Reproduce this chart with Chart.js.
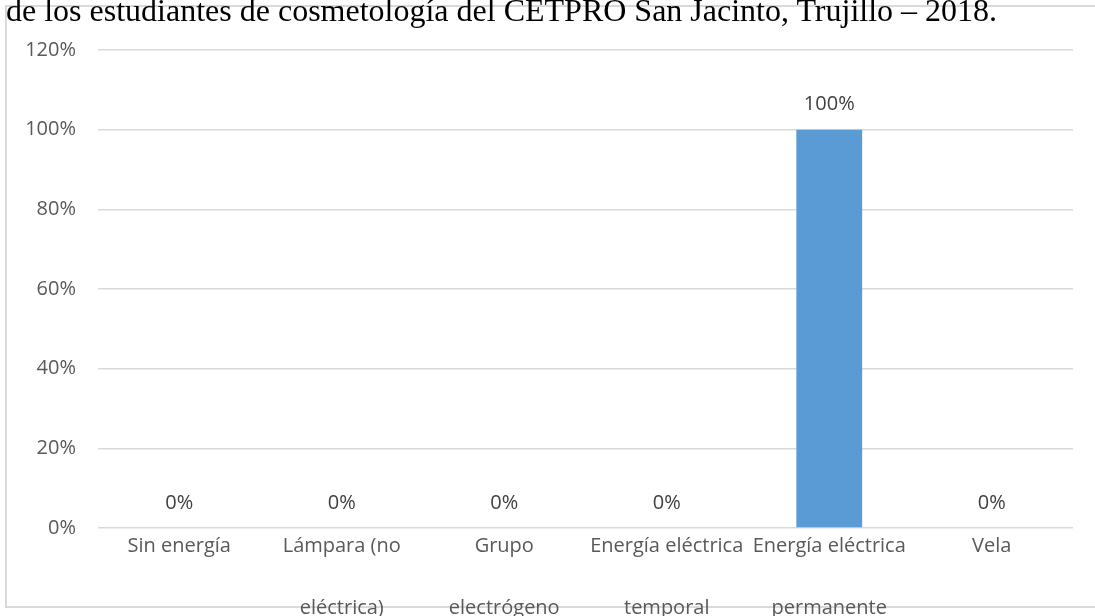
<!DOCTYPE html>
<html lang="es">
<head>
<meta charset="utf-8">
<title>Tipo de energía</title>
<script src="https://cdn.jsdelivr.net/npm/chart.js@4/dist/chart.umd.min.js"></script>
<style>
  html, body { margin: 0; padding: 0; background: #ffffff; overflow: hidden; }
  #wrap { position: relative; width: 1095px; height: 616px; }
  #marco { position: absolute; left: 5px; top: 5px; width: 1100px; height: 599px; border: 2px solid #d9d9d9; }
  #titulo { position: absolute; left: 6px; top: -6px; font-family: "Liberation Serif", "Times New Roman", serif; font-size: 32px; line-height: 32px; color: #000000; white-space: nowrap; }
  #grafico { position: absolute; left: 0; top: 0; }
</style>
</head>
<body>
<div id="wrap">
  <div id="marco"></div>
  <canvas id="grafico" width="1095" height="616"></canvas>
  <div id="titulo">de los estudiantes de cosmetología del CETPRO San Jacinto, Trujillo – 2018.</div>
</div>
<script>
// Categorías del eje X (cada una puede tener dos líneas)
const categorias = [
  ['Sin energía'],
  ['Lámpara (no', 'eléctrica)'],
  ['Grupo', 'electrógeno'],
  ['Energía eléctrica', 'temporal'],
  ['Energía eléctrica', 'permanente'],
  ['Vela']
];
// Porcentaje de estudiantes (0 a 1)
const porcentajes = [0, 0, 0, 0, 1, 0];
// Límites del eje Y
const ejeMin = 0;
const ejeMax = 1.2;
const ejePaso = 0.2;

const formatoPct = v => Math.round(v * 100) + '%'; // 0.2 -> "20%"

// Plugin sencillo para las etiquetas sobre las barras
const etiquetasBarras = {
  id: 'etiquetasBarras',
  afterDatasetsDraw(chart) {
    const c = chart.ctx;
    const meta = chart.getDatasetMeta(0);
    c.save();
    c.font = '20px "Open Sans", sans-serif';
    c.fillStyle = '#404040';
    c.textAlign = 'center';
    c.textBaseline = 'middle';
    meta.data.forEach((barra, i) => {
      c.fillText(formatoPct(porcentajes[i]), barra.x, barra.y - 25);
    });
    c.restore();
  }
};

const ctx = document.getElementById('grafico').getContext('2d');
const grafico = new Chart(ctx, {
  type: 'bar',
  data: {
    labels: categorias,
    datasets: [{
      data: porcentajes,
      backgroundColor: '#5b9bd5',
      borderWidth: 0,
      barPercentage: 0.9,
      categoryPercentage: 0.45
    }]
  },
  options: {
    responsive: false,
    animation: false,
    layout: { padding: { top: 50, right: 22, left: 0, bottom: 0 } },
    plugins: {
      legend: { display: false },
      tooltip: { enabled: false }
    },
    scales: {
      x: {
        grid: { display: false, drawTicks: false },
        border: { display: false },
        ticks: {
          color: '#595959',
          font: { family: 'Open Sans', size: 20, lineHeight: 3.1 },
          padding: -13,
          maxRotation: 0,
          autoSkip: false
        },
        afterFit(scale) { scale.height = 88; }
      },
      y: {
        min: ejeMin,
        max: ejeMax,
        grid: { color: '#d9d9d9', lineWidth: 1.5, drawTicks: false },
        border: { display: false },
        ticks: {
          stepSize: ejePaso,
          color: '#595959',
          font: { family: 'Open Sans', size: 20 },
          padding: 22,
          callback: v => formatoPct(v)
        },
        afterFit(scale) { scale.width = 98; }
      }
    }
  },
  plugins: [etiquetasBarras]
});
</script>
</body>
</html>
